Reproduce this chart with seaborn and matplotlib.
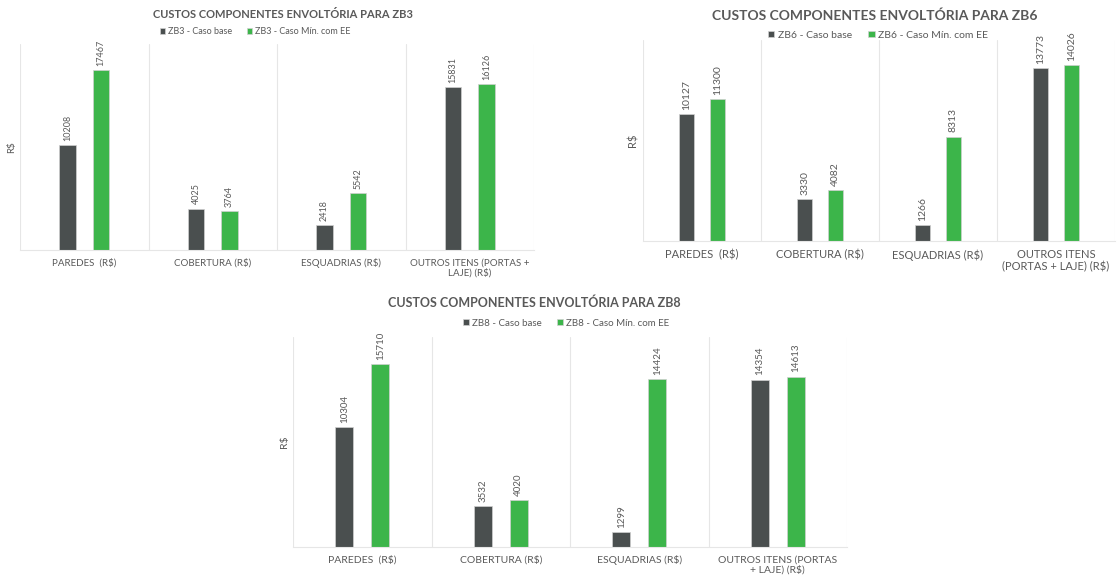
import matplotlib
matplotlib.use("Agg")
import matplotlib.pyplot as plt
import seaborn as sns
import pandas as pd

# ---------------- data ----------------
categories = ["PAREDES  (R$)", "COBERTURA (R$)", "ESQUADRIAS (R$)", "OUTROS ITENS (PORTAS + LAJE) (R$)"]

zb3_labels = ["PAREDES  (R$)", "COBERTURA (R$)", "ESQUADRIAS (R$)", "OUTROS ITENS (PORTAS +\nLAJE) (R$)"]
zb6_labels = ["PAREDES  (R$)", "COBERTURA (R$)", "ESQUADRIAS (R$)", "OUTROS ITENS\n(PORTAS + LAJE) (R$)"]
zb8_labels = ["PAREDES  (R$)", "COBERTURA (R$)", "ESQUADRIAS (R$)", "OUTROS ITENS (PORTAS\n+ LAJE) (R$)"]

zb3_base = [10208, 4025, 2418, 15831]
zb3_ee = [17467, 3764, 5542, 16126]
zb6_base = [10127, 3330, 1266, 13773]
zb6_ee = [11300, 4082, 8313, 14026]
zb8_base = [10304, 3532, 1299, 14354]
zb8_ee = [15710, 4020, 14424, 14613]

series_names = {
    "ZB3": ["ZB3 - Caso base", "ZB3 - Caso Mín. com EE"],
    "ZB6": ["ZB6 - Caso base", "ZB6 - Caso Mín. com EE"],
    "ZB8": ["ZB8 - Caso base", "ZB8 - Caso Mín. com EE"],
}
titles = {
    "ZB3": "CUSTOS COMPONENTES ENVOLTÓRIA PARA ZB3",
    "ZB6": "CUSTOS COMPONENTES ENVOLTÓRIA PARA ZB6",
    "ZB8": "CUSTOS COMPONENTES ENVOLTÓRIA PARA ZB8",
}

# ---------------- style ----------------
sns.set_style("white")
plt.rcParams["font.family"] = ["Lato", "DejaVu Sans"]

DARK = "#4a4f4f"
GREEN = "#3cb54a"
TXT = "#595959"
GRID = "#e6e6e6"

W, H = 1120, 579
fig = plt.figure(figsize=(W / 100, H / 100), dpi=100)


def px_axes(left, top, right, bottom):
    return fig.add_axes([left / W, 1 - bottom / H, (right - left) / W, (bottom - top) / H])


def panel(ax, key, base, ee, ticklabels, ymax, title_xy, title_fs, leg_xy, leg_fs,
          tick_fs, val_fs, label_fs):
    n1, n2 = series_names[key]
    df = pd.DataFrame({
        "cat": categories * 2,
        "val": base + ee,
        "serie": [n1] * 4 + [n2] * 4,
    })
    sns.barplot(data=df, x="cat", y="val", hue="serie", order=categories,
                hue_order=[n1, n2], palette=[DARK, GREEN], saturation=1,
                width=0.52, gap=0.5,
                edgecolor="#d0d0d0", linewidth=0.5, ax=ax, errorbar=None)
    for c in ax.containers:
        ax.bar_label(c, labels=[f"{int(v)}" for v in c.datavalues], rotation=90,
                     padding=3, fontsize=val_fs, color=TXT)
    ax.set_xlim(-0.5, 3.5)
    ax.set_ylim(0, ymax)
    for b in range(5):
        ax.axvline(b - 0.5, color=GRID, lw=0.8, zorder=0)
    for s in ["top", "left", "right"]:
        ax.spines[s].set_visible(False)
    ax.spines["bottom"].set_color(GRID)
    ax.set_yticks([])
    ax.set_xticks(range(4))
    ax.set_xticklabels(ticklabels, fontsize=tick_fs, color=TXT, linespacing=1.1)
    ax.tick_params(axis="x", length=0, pad=6)
    ax.set_xlabel("")
    ax.set_ylabel("R$", fontsize=label_fs, color=TXT, labelpad=3)
    fig.text(title_xy[0] / W, 1 - title_xy[1] / H, titles[key], ha="center", va="center",
             fontsize=title_fs, fontweight="bold", color=TXT)
    handles, labels = ax.get_legend_handles_labels()
    ax.legend(handles, labels, loc="center", bbox_to_anchor=(leg_xy[0] / W, 1 - leg_xy[1] / H),
              bbox_transform=fig.transFigure, ncol=2, frameon=False, fontsize=leg_fs,
              labelcolor=TXT, handlelength=0.6, handleheight=0.6, handletextpad=0.3,
              columnspacing=1.6, borderpad=0)


ax1 = px_axes(20, 44, 534, 250)
panel(ax1, "ZB3", zb3_base, zb3_ee, zb3_labels, 20000, (283, 15), 8, (255, 32), 6.5,
      7, 6.5, 7)

ax2 = px_axes(643, 40, 1115, 241)
panel(ax2, "ZB6", zb6_base, zb6_ee, zb6_labels, 16000, (875, 16), 10, (878, 35), 7.5,
      8, 7.5, 8)

ax3 = px_axes(293, 337, 847, 547)
panel(ax3, "ZB8", zb8_base, zb8_ee, zb8_labels, 18000, (534, 303), 9, (566, 323), 7,
      7.5, 7, 7.5)

fig.savefig("out.png", dpi=100, facecolor="white")
